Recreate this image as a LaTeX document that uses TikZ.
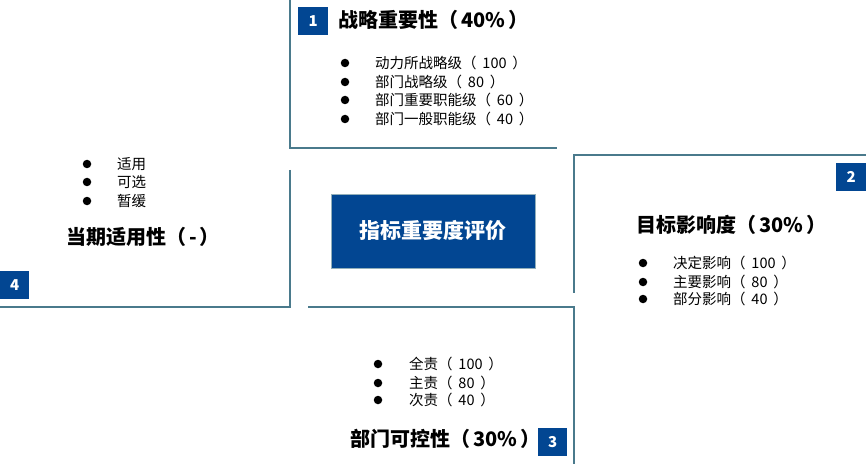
\documentclass[tikz,border=0pt]{standalone}
\usepackage{fontspec}
\setmainfont{Noto Sans CJK SC}
\definecolor{linec}{RGB}{74,122,140}
\definecolor{boxblue}{RGB}{2,70,146}
\newcommand{\parnum}[2][0.4em]{（\hspace{#1}#2\hspace{#1}）}
\begin{document}
\begin{tikzpicture}[x=1pt,y=1pt,
  quad/.style={draw=linec,line width=2pt},
  numbox/.style={fill=boxblue,text=white,font=\fontsize{15}{16}\selectfont\bfseries,minimum width=30pt,minimum height=28pt,inner sep=0pt,anchor=south west},
  title/.style={font=\fontsize{20}{24}\selectfont\bfseries,inner sep=0pt,anchor=west},
  item/.style={font=\fontsize{14.5}{18}\selectfont,inner sep=0pt,anchor=west},
  dot/.style={circle,fill=black,inner sep=0pt,minimum size=8.5pt}]
\useasboundingbox (0,0) rectangle (866,464);
% quadrant borders
\draw[quad] (290,464) -- (290,316) -- (557,316);
\draw[quad] (866,309) -- (574,309) -- (574,171);
\draw[quad] (290,294) -- (290,157) -- (0,157);
\draw[quad] (308,157) -- (574,157) -- (574,0);
% centre
\node[fill=boxblue,draw=linec!60,line width=0.5pt,minimum width=204pt,minimum height=74pt,inner sep=0pt,text=white,font=\fontsize{21}{24}\selectfont\bfseries] (centre) at (433,233) {指标重要度评价};
% number boxes
\node[numbox] (n1) at (298,429) {1};
\node[numbox] (n2) at (836,273) {2};
\node[numbox,minimum width=29pt] (n4) at (0,165) {4};
\node[numbox,minimum width=29pt] (n3) at (538,8) {3};
% quadrant 1
\node[title] (t1) at (338,444) {战略重要性\parnum[0.15em]{40\%}};
\node[dot] (d11) at (345,401) {};
\node[dot] (d12) at (345,382) {};
\node[dot] (d13) at (345,364) {};
\node[dot] (d14) at (345,345) {};
\node[item] (i11) at (375,401) {动力所战略级\parnum{100}};
\node[item] (i12) at (375,382) {部门战略级\parnum{80}};
\node[item] (i13) at (375,364) {部门重要职能级\parnum{60}};
\node[item] (i14) at (375,345) {部门一般职能级\parnum{40}};
% quadrant 2
\node[title] (t2) at (636,239) {目标影响度\parnum[0.15em]{30\%}};
\node[dot] (d21) at (643,201) {};
\node[dot] (d22) at (643,182) {};
\node[dot] (d23) at (643,165) {};
\node[item] (i21) at (673,201) {决定影响\parnum{100}};
\node[item] (i22) at (673,182) {主要影响\parnum{80}};
\node[item] (i23) at (673,165) {部分影响\parnum{40}};
% quadrant 4
\node[dot] (d41) at (87,300) {};
\node[dot] (d42) at (87,282) {};
\node[dot] (d43) at (87,263) {};
\node[item] (i41) at (117,300) {适用};
\node[item] (i42) at (117,282) {可选};
\node[item] (i43) at (117,263) {暂缓};
\node[title] (t4) at (66,227) {当期适用性\parnum[0.15em]{-}};
% quadrant 3
\node[dot] (d31) at (378,100) {};
\node[dot] (d32) at (378,81) {};
\node[dot] (d33) at (378,64) {};
\node[item] (i31) at (409,100) {全责\parnum{100}};
\node[item] (i32) at (409,81) {主责\parnum{80}};
\node[item] (i33) at (409,64) {次责\parnum{40}};
\node[title] (t3) at (350,25) {部门可控性\parnum[0.15em]{30\%}};
\end{tikzpicture}
\end{document}
